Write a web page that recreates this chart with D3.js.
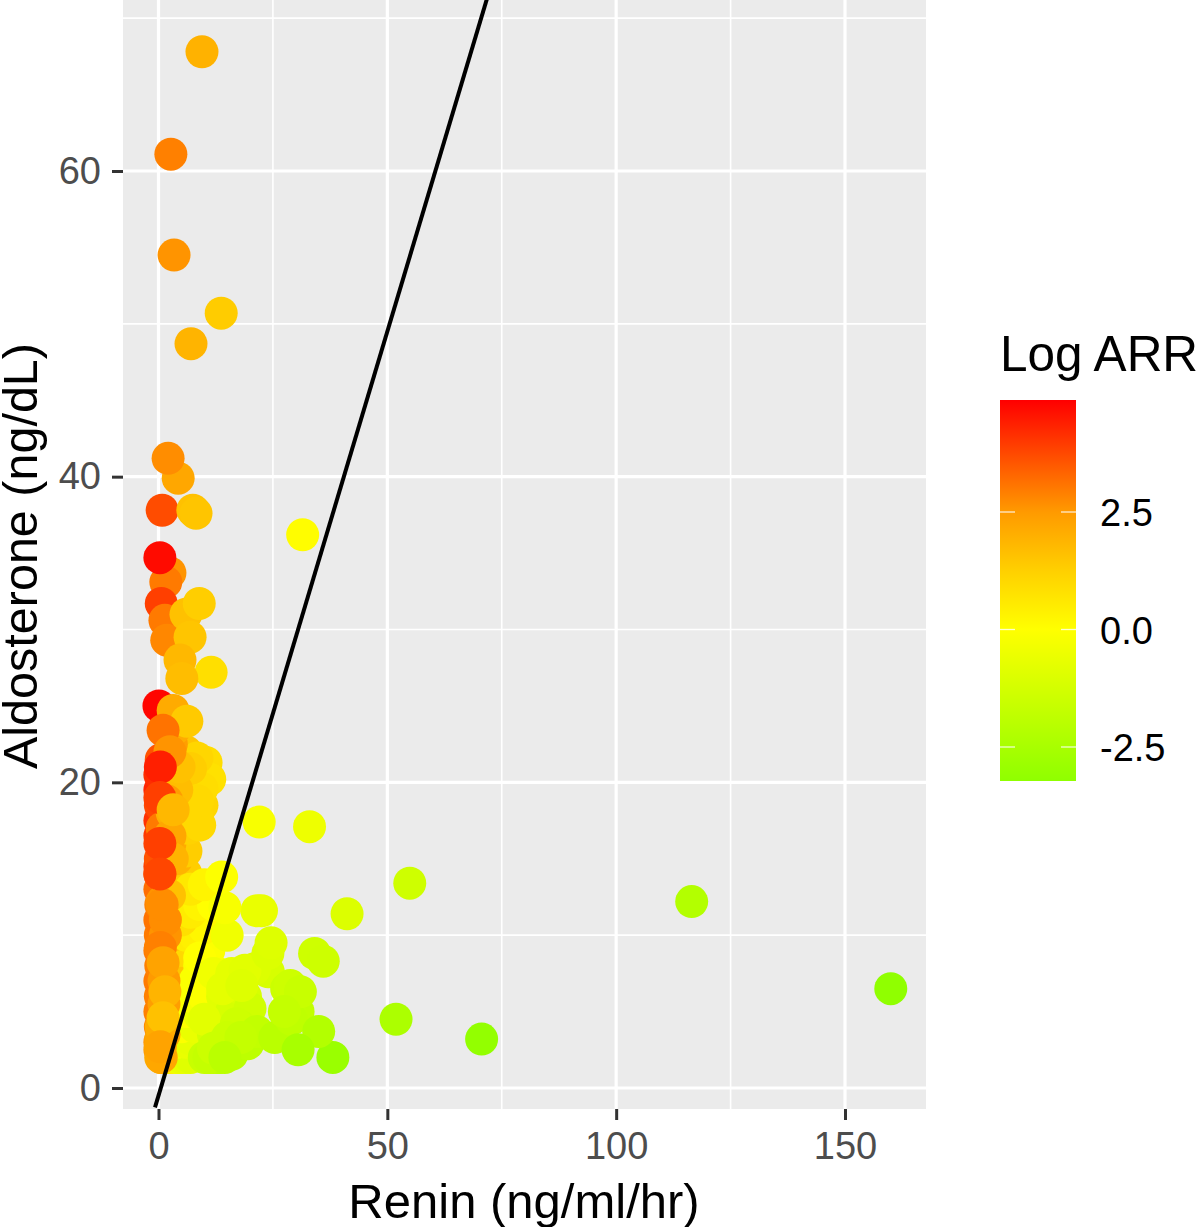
<!DOCTYPE html>
<html><head><meta charset="utf-8">
<script src="https://cdn.jsdelivr.net/npm/d3@7"></script>
<style>html,body{margin:0;padding:0;background:#fff}svg{display:block}text{font-family:"Liberation Sans",Arial,sans-serif}</style>
</head><body><svg id="c" width="1200" height="1227"></svg>
<script>
const reninValues = [
 0.5,1,2,0.3,0.3,0.4,0.3,0.4,0.3,0.5,0.3,0.4,0.3,0.5,0.3,0.3,0.4,0.3,0.3,0.4,0.3,0.3,0.6,0.8,1.5,
 2,3,4.5,2.5,3.5,5,3,4,5.5,2.5,4,6,3,4.5,5.5,3,4.5,6,3.5,5,6.5,4,6,7,4,6,2.5,4,3,5,6.5,5,3,4,7,8,9.5,7.5,8.5,9,6,
 4,5,6,7,4,6,7,5,8,6,9,7,10,8,11,9,12,10,13,11,6,8,10,5,7,9,12,7,10,9,12,14,
 15,17,14,12,19,11,13,16,18,20,15,10,13,18,16,12,14,10,17,
 13.4,11,15,16,12,19.5,21.5,18,25.4,14.5,
 24,21,18.9,18.2,23.9,24.6,22.5,21.5,15,14.5,13.8,
 30.5,28.5,29,28,28.8,31,27.5,34.1,36,
 38.1,35,30.5,41.2,54.9,116.5,160,51.9,70.6,
 22,33,31.5,
 10.4,11.2,8.4,9.5,7,8.5,
 2.8,3,2.5,3,3.5,4,4.5,1.5,1.5,1.2,1.2,1.2,0.6,0.5,0.6,
 0.1,3.2,6.2,1,2.5,0.4,1.8,0.3,3.2,0.3,0.8,0.3,2.4,0.8,0.4,1,1.4,1,0.4,
 0.3,2.5,1.6,0.6,1.4,1.8,6,6.9,4.7,8.9,11.5,5.1,
 0.3,0.8,4.3,2.1,7.5,8.2,7.1,13.7,3.4,2.7,9.5
];
const aldosteroneValues = [
 2,2,2,2.5,3,4,5,6,7,8,9,10,11,12,13,14.5,15,16.5,17.5,18.5,19.5,20.5,21.5,17,19,
 2,2,2,3,3.5,3,5,5,4.5,6,7,6.5,8,9,9,10,11,11,12,12.5,11,13.5,14,13,15,15.5,16,17,18,18.5,17,19.5,20,20.5,19,18.7,18.5,17.8,17.6,17.2,22,
 2,2,2,2,3,3,3.2,4,4,5,4.8,6,5.5,7,6.5,8,7.5,6,7.5,9,10,10,10.5,11,11.5,12,12,13,13.3,8.5,7.5,6,
 4.5,5.5,2.5,2,6,2,3,5,6.5,5.2,3.5,2,2,4,7.5,3.5,6.5,4.5,4.2,
 2,2,3.3,2.2,2.6,2.9,3.7,3.3,3.3,2,
 7.6,7.8,7.7,6.7,8.8,9.5,11.6,11.6,10,11.8,13.8,
 5,5.2,4.5,6.5,6.7,6.3,5,8.8,8.3,
 2,3.7,2.5,11.4,13.4,12.2,6.5,4.5,3.2,
 17.4,17.1,36.2,
 21.3,20.2,21.6,19.6,20.9,18.8,
 22.5,20,16.5,15,23.5,19.5,21,10,11,7,5.5,3.5,2,3.2,4,
 25,24.7,24,23.4,22,21,18.8,19,18.2,14,12.2,16,12.6,12,9.2,8.2,6.3,4.6,2.7,
 14,33.7,33.1,31.7,30.6,29.3,31,29.5,28,31.7,27.2,26.8,
 34.7,37.8,39.9,41.2,37.8,37.6,48.7,50.7,54.5,61.1,67.8
];
const logArrValues = [
 2,1.9,1.2,2.4,2.6,2.8,2.9,2.9,3,2.9,3,3,3.1,2.9,3.2,3.9,3.6,4,4.1,3.8,4.3,4.2,3.6,3,2.6,
 0.6,0.4,0.1,1,0.7,0.3,1.1,0.9,0.6,1.3,1.1,0.8,1.5,1.2,1,1.6,1.3,0.9,1.6,1.3,0.8,1.8,1.3,1,1.9,1.3,2.1,1.8,2,1.7,1.2,1.7,2.1,1.8,1.3,1.2,1.1,1.2,1,1,1.5,
 -0.4,-0.6,-0.7,-0.9,-0.2,-0.6,-0.7,-0.1,-0.6,-0.1,-0.6,-0.15,-0.3,-0.15,-0.1,-0.15,-0.4,-0.1,-0.2,-0.1,0.5,0.4,0.2,0.85,0.5,0.3,0,0.6,0.3,0,-0.4,-0.85,
 -1.2,-1.15,-1.7,-1.8,-1.15,-1.7,-1.5,-1.15,-1,-1.35,-1.45,-1.6,-1.85,-1.5,-0.75,-1.2,-0.75,-0.8,-1.4,
 -1.9,-1.7,-1.5,-2,-1.5,-1.9,-1.75,-1.7,-2,-2,
 -1.15,-1,-0.85,-0.95,-1,-0.95,-0.65,-0.6,-0.4,-0.2,-0.05,
 -1.8,-1.7,-1.85,-1.5,-1.45,-1.6,-1.7,-1.4,-1.45,
 -2.9,-2.2,-2.5,-1,-1.4,-2.2,-3.2,-2.4,-3.1,
 -0.2,-0.5,0.05,
 0.9,0.8,1.1,0.9,1.3,1,
 2.4,2.3,2.2,1.9,2.1,1.7,1.6,2.6,2.7,2.5,2.4,2.3,2.2,2.3,2.1,
 4.8,2.1,1.4,3.1,2.6,4.4,2.4,3.9,1.8,3.6,2.6,3.9,1.6,2.7,2.9,2.3,1.9,1.6,2.3,
 3.8,2.6,3,3.9,3,2.8,1.6,1.5,1.8,1.3,0.85,1.7,
 4.7,3.7,2.2,2.7,1.6,1.5,1.9,1.35,2.6,2.9,1.95
];
const xTicks=[0,50,100,150], yTicks=[0,20,40,60];
const xMinor=[25,75,125], yMinor=[10,30,50,70];
const legendTicks=[-2.5,0,2.5];
const colorDomain=[-3.2,0,1.25,2.5,4.87];
const colorRange=["#90ff00","#ffff00","#ffd000","#ff9a00","#ff0000"];
const lineSlope=1, lineIntercept=-0.5;

const svg=d3.select("#c");
const L=123,R=926,T=0,B=1109;
const x=d3.scaleLinear().domain([0,150]).range([158.5,845]);
const y=d3.scaleLinear().domain([0,60]).range([1088,171]);
const color=d3.scaleLinear().domain(colorDomain).range(colorRange).clamp(true);

svg.append("rect").attr("x",L).attr("y",T).attr("width",R-L).attr("height",B-T).attr("fill","#ebebeb");
const grid=svg.append("g").attr("stroke","#fff");
xMinor.forEach(v=>grid.append("line").attr("x1",x(v)).attr("x2",x(v)).attr("y1",T).attr("y2",B).attr("stroke-width",1.6));
yMinor.forEach(v=>grid.append("line").attr("y1",y(v)).attr("y2",y(v)).attr("x1",L).attr("x2",R).attr("stroke-width",1.6));
xTicks.forEach(v=>grid.append("line").attr("x1",x(v)).attr("x2",x(v)).attr("y1",T).attr("y2",B).attr("stroke-width",3.2));
yTicks.forEach(v=>grid.append("line").attr("y1",y(v)).attr("y2",y(v)).attr("x1",L).attr("x2",R).attr("stroke-width",3.2));

const defs=svg.append("defs");
defs.append("clipPath").attr("id","p").append("rect").attr("x",L).attr("y",T).attr("width",R-L).attr("height",B-T);
const idx=d3.range(reninValues.length);
svg.append("g").attr("clip-path","url(#p)").selectAll("circle").data(idx).join("circle")
 .attr("cx",i=>x(reninValues[i])).attr("cy",i=>y(aldosteroneValues[i])).attr("r",16.5).attr("fill",i=>color(logArrValues[i]));

const xEnds=[x.invert(155),x.invert(490)];
const ln=d3.line().x(d=>x(d)).y(d=>y(lineSlope*d+lineIntercept));
svg.append("path").attr("d",ln(xEnds)).attr("fill","none").attr("stroke","#000").attr("stroke-width",4).attr("clip-path","url(#p)");

function styleAxis(g){g.select(".domain").remove();g.selectAll(".tick line").attr("stroke","#333").attr("stroke-width",3);
 g.selectAll(".tick text").attr("fill","#4d4d4d").style("font-size","38px").style("font-family",'"Liberation Sans",Arial,sans-serif');}
svg.append("g").attr("transform",`translate(0,${B})`).call(d3.axisBottom(x).tickValues(xTicks).tickSize(11).tickPadding(12).tickFormat(d3.format("d"))).call(styleAxis);
svg.append("g").attr("transform",`translate(${L},0)`).call(d3.axisLeft(y).tickValues(yTicks).tickSize(11).tickPadding(11).tickFormat(d3.format("d"))).call(styleAxis);

svg.append("text").attr("x",524).attr("y",1218).attr("text-anchor","middle").style("font-size","49px").text("Renin (ng/ml/hr)");
svg.append("text").attr("transform","translate(37,556) rotate(-90)").attr("text-anchor","middle").style("font-size","48.5px").text("Aldosterone (ng/dL)");
svg.append("text").attr("x",1000).attr("y",371).style("font-size","49.5px").text("Log ARR");

const lg=d3.scaleLinear().domain([-2.5,2.5]).range([747,512]);
const grad=defs.append("linearGradient").attr("id","g").attr("x1",0).attr("x2",0).attr("y1",1).attr("y2",0);
const lo=lg.invert(781),hi=lg.invert(400);
colorDomain.forEach(v=>grad.append("stop").attr("offset",(v-lo)/(hi-lo)).attr("stop-color",color(v)));
svg.append("rect").attr("x",1000).attr("y",400).attr("width",76).attr("height",381).attr("fill","url(#g)");
const lt=svg.append("g");
legendTicks.forEach(v=>{
 lt.append("line").attr("x1",1000).attr("x2",1015).attr("y1",lg(v)).attr("y2",lg(v)).attr("stroke","#fff").attr("stroke-width",1.3).attr("stroke-opacity",.8);
 lt.append("line").attr("x1",1061).attr("x2",1076).attr("y1",lg(v)).attr("y2",lg(v)).attr("stroke","#fff").attr("stroke-width",1.3).attr("stroke-opacity",.8);
 lt.append("text").attr("x",1100).attr("y",lg(v)+14).style("font-size","38px").text(d3.format(".1f")(v).replace("\u2212","-"));
});
</script></body></html>
